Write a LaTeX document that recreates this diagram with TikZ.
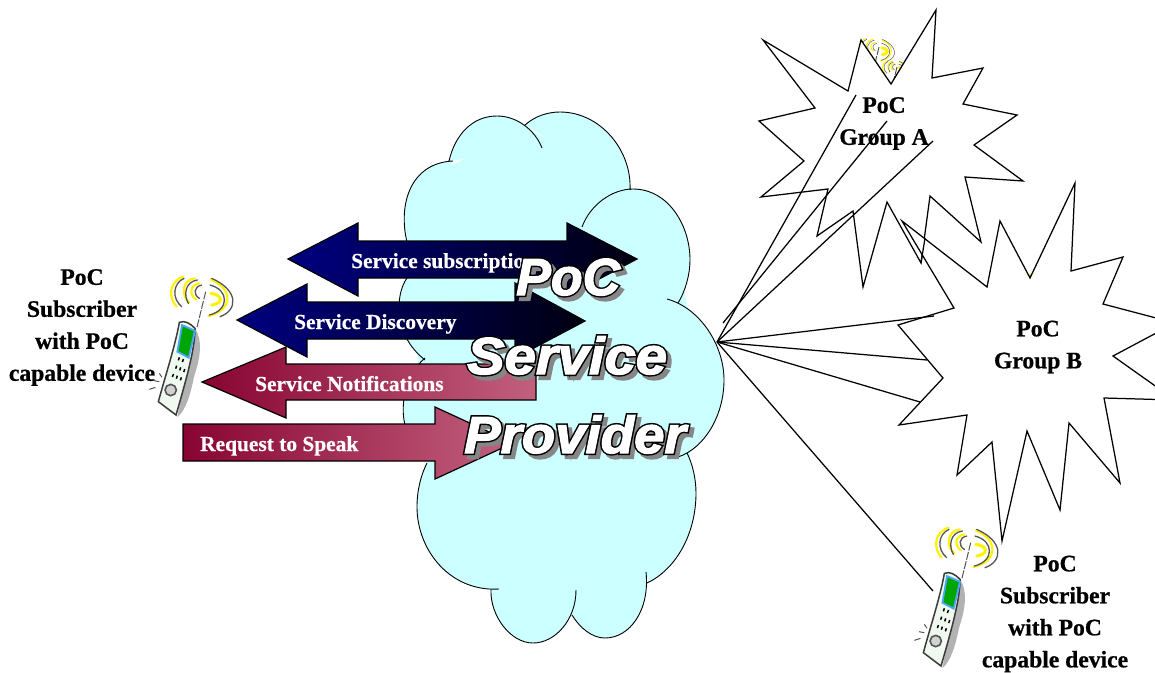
\documentclass[tikz,border=0pt]{standalone}
\usepackage{fontspec}
\setmainfont{Liberation Serif}
\font\wordartwide="Liberation Sans/BI:embolden=8" at 52pt
\font\wordartface="Liberation Sans/BI:embolden=2.4" at 52pt
\font\labelfont="Liberation Serif/B:embolden=0.7" at 23.6pt
\font\arrowfont="Liberation Serif/B:embolden=0.5" at 21.4pt
\definecolor{cloudcyan}{RGB}{204,255,255}
\definecolor{navyblue}{RGB}{0,0,128}
\definecolor{nearblack}{RGB}{0,0,16}
\definecolor{wine}{RGB}{136,4,50}
\definecolor{rose}{RGB}{194,96,126}
\definecolor{phonegrey}{RGB}{85,85,85}
\tikzset{
  outline/.style={draw=black,line width=1.25pt,line join=miter},
  label/.style={font=\fontsize{23.6}{32}\selectfont\labelfont,align=center,inner sep=0pt,text=black},
  arrowlabel/.style={font=\arrowfont,inner sep=0pt,text=white,anchor=base west},
  bluearrow/.style={left color=navyblue,right color=nearblack,shading angle=90},
  redarrow/.style={left color=wine,right color=rose,shading angle=90},
  arrowedge/.style={draw=black,line width=1.2pt},
  waveY/.style={draw=yellow,line width=2.2pt,line cap=round},
  waveG/.style={draw=phonegrey,line width=1.3pt,line cap=round},
  wordshadow/.style={font=\wordartwide,text=gray!95,inner sep=0pt,anchor=base west},
  wordedge/.style={font=\wordartwide,text=black,inner sep=0pt,anchor=base west},
  wordface/.style={font=\wordartface,text=white,inner sep=0pt,anchor=base west},
  hiddenwaves/.style={waveY/.append style={line width=1pt},waveG/.append style={line width=.5pt}}
}
\newcommand{\phonewaves}{%
  \draw[waveY] (130,50) .. controls (85,65) and (85,115) .. (110,140);
  \draw[waveG] (132,55) .. controls (98,70) and (95,115) .. (125,140);
  \draw[waveY] (165,55) .. controls (125,60) and (122,105) .. (148,128);
  \draw[waveG] (172,60) .. controls (135,65) and (130,105) .. (145,130);
  \draw[waveY] (178,70) .. controls (148,75) and (148,105) .. (168,118);
  \draw[waveG] (185,75) .. controls (160,80) and (160,105) .. (178,115);
  \draw[waveY] (212,58) .. controls (280,85) and (280,150) .. (205,168);
  \draw[waveG] (215,55) .. controls (295,90) and (295,150) .. (240,170);
  \draw[waveY,line width=3pt] (212,100) .. controls (250,105) and (250,130) .. (215,135);
  \draw[waveG] (210,75) .. controls (268,90) and (268,150) .. (208,165);
  \draw[phonegrey,line width=1pt,dash pattern=on 8pt off 1.5pt] (197,95) -- (170,205);
}
\newcommand{\phonebody}{%
  \fill[gray!60] (165,205) .. controls (188,240) and (182,290) .. (162,350) .. controls (152,400) and (138,450) .. (112,472) -- (125,400) -- cycle;
  \draw[phonegrey!70!black,line width=1.5pt,fill=green!4!white!95!gray] (118,187) .. controls (135,180) and (150,190) .. (165,205) .. controls (165,270) and (135,370) .. (108,465) -- (55,425) .. controls (75,350) and (105,260) .. (118,187) -- cycle;
  \draw[line width=1.8pt,draw=blue!50!cyan!70!white,fill=green!65!black] (126,195) -- (165,212) -- (146,293) -- (112,275) -- cycle;
  \foreach \kx/\ky in {118/292,130/297,110/317,122/322,134/327,100/342,112/347,124/352}
    \draw[black,line width=1.5pt] (\kx,\ky) -- ++(-3,9);
  \draw[phonegrey,line width=1.6pt,fill=gray!35] (92,390) circle [radius=17];
  \draw[phonegrey,line width=1pt] (58,340) -- (66,352) (42,362) -- (58,365) (28,388) -- (46,382);
}
\begin{document}
\begin{tikzpicture}[x=1pt,y=-1pt]
\useasboundingbox (0,0) rectangle (1155,672);
\fill[white] (0,0) rectangle (1155,672);

% phones hidden behind the stars
\begin{scope}[hiddenwaves,shift={(879,47)},x=.19pt,y=-.19pt,shift={(-197,-95)}]\phonewaves\end{scope}
\begin{scope}[hiddenwaves,shift={(897,67)},x=.14pt,y=-.14pt,shift={(-197,-95)}]\phonewaves\end{scope}
\begin{scope}[hiddenwaves,shift={(1042,280)},x=.15pt,y=-.15pt,shift={(-197,-95)}]\phonewaves\end{scope}

% stars
\draw[outline,fill=white] (763,40) -- (848,91) -- (861,40) -- (891,84) -- (936,10) -- (932,78) -- (983,68) -- (963,104) -- (1017,115) -- (974,145) -- (1023,181) -- (965,177) -- (981,242) -- (930,196) -- (921,263) -- (887,202) -- (863,287) -- (853,211) -- (817,236) -- (828,189) -- (761,197) -- (804,161) -- (759,121) -- (815,108) -- cycle;
\draw[outline,fill=white] (902,221) -- (987,287) -- (1000,221) -- (1030,278) -- (1075,183) -- (1071,271) -- (1123,257) -- (1103,304) -- (1175,323) -- (1113,356) -- (1175,400) -- (1104,398) -- (1120,483) -- (1069,423) -- (1060,510) -- (1027,431) -- (1002,541) -- (992,442) -- (957,475) -- (967,415) -- (899,425) -- (943,378) -- (898,325) -- (954,308) -- cycle;
\draw[outline] (925,238) -- (921,263);

% cloud
\def\cloudlobes{
  (407,242) .. controls (398,205) and (410,163) .. (453,161)
  (449,161) .. controls (455,135) and (472,116) .. (497,116) .. controls (517,116) and (535,130) .. (542,148)
  (525,125) .. controls (535,116) and (548,112) .. (560,112) .. controls (600,112) and (632,150) .. (630,190)
  (582,227) .. controls (590,205) and (612,189) .. (633,189) .. controls (668,189) and (690,225) .. (690,260) .. controls (690,275) and (685,292) .. (678,303)
  (667,299) .. controls (700,308) and (724,345) .. (724,380) .. controls (724,415) and (705,448) .. (678,457)
  (687,453) .. controls (693,465) and (696,480) .. (696,493) .. controls (696,535) and (675,570) .. (647,583)
  (646,572) .. controls (650,610) and (630,638) .. (605,638) .. controls (592,638) and (580,628) .. (572,615)
  (576,590) .. controls (576,620) and (555,643) .. (533,643) .. controls (510,643) and (490,615) .. (491,590)
  (499,589) .. controls (450,592) and (417,550) .. (417,507) .. controls (417,490) and (421,475) .. (427,463)
  (405,425) .. controls (400,405) and (405,375) .. (425,358)
  (407,278) .. controls (395,295) and (393,335) .. (425,360)
}
\fill[cloudcyan] \cloudlobes;
\fill[cloudcyan] (407,242) -- (440,170) -- (530,130) -- (625,180) -- (680,270) -- (690,320) -- (720,380) -- (690,450) -- (690,510) -- (647,578) -- (640,590) -- (572,615) -- (491,590) -- (420,510) -- (427,463) -- (405,425) -- (418,360) -- (407,278) -- cycle;
\draw[black,line width=.9pt] \cloudlobes;

% hub lines
\coordinate (hub) at (717,342);
\coordinate (hubb) at (723,323);
\coordinate (a1) at (856,95);
\coordinate (a2) at (887,121);
\coordinate (a3) at (933,141);
\coordinate (b1) at (934,316);
\coordinate (b2) at (927,360);
\coordinate (b3) at (920,402);
\coordinate (sub) at (933,591);
\draw[outline] (hub) -- (a1);
\draw[outline] (hubb) -- (a2);
\draw[outline] (hub) -- (a3);
\draw[outline] (hub) -- (b1);
\draw[outline] (hub) -- (b2);
\draw[outline] (hub) -- (b3);
\draw[outline] (hub) -- (sub);

% arrows
\path[arrowedge,redarrow] (202,382) -- (286,347) -- (286,364) -- (536,364) -- (536,400) -- (286,400) -- (286,418) -- cycle;
\path[arrowedge,bluearrow] (288,259) -- (358,223) -- (358,241) -- (567,241) -- (567,223) -- (637,259) -- (567,296) -- (567,278) -- (358,278) -- (358,296) -- cycle;
\path[arrowedge,bluearrow] (237,320) -- (307,284) -- (307,302) -- (515,302) -- (515,283) -- (585,321) -- (515,358) -- (515,339) -- (307,339) -- (307,357) -- cycle;
\path[arrowedge,redarrow] (183,424) -- (435,424) -- (435,407) -- (513,443) -- (435,479) -- (435,461) -- (183,461) -- cycle;

\node[arrowlabel] (tsub) at (351,268) {Service subscription};
\node[arrowlabel] (tdis) at (294,329) {Service Discovery};
\node[arrowlabel] (tnot) at (255,391) {Service Notifications};
\node[arrowlabel] (treq) at (200,451) {Request to Speak};

% word art: shadow, edge, face
\node[wordshadow] (poc3) at (520,299) {PoC};
\node[wordshadow,xscale=1.08,transform shape] (ser3) at (471,378) {Service};
\node[wordshadow,xscale=1.05,transform shape] (pro3) at (468,457) {Provider};
\node[wordedge] (poc2) at (516,295) {PoC};
\node[wordedge,xscale=1.08,transform shape] (ser2) at (467,374) {Service};
\node[wordedge,xscale=1.05,transform shape] (pro2) at (464,453) {Provider};
\node[wordface] (poc) at (516,295) {PoC};
\node[wordface,xscale=1.08,transform shape] (ser) at (467,374) {Service};
\node[wordface,xscale=1.05,transform shape] (pro) at (464,453) {Provider};

% visible phones
\begin{scope}[shift={(205.7,291.7)},x=.3333pt,y=-.3333pt,shift={(-197,-95)}]\phonebody\phonewaves\end{scope}
\begin{scope}[shift={(970.7,542.7)},x=.3333pt,y=-.3333pt,shift={(-197,-95)}]\phonebody\phonewaves\end{scope}

% labels
\node[label] (lsub) at (82,327.5) {PoC\\Subscriber\\with PoC\\capable device};
\node[label] (rsub) at (1055,614) {PoC\\Subscriber\\with PoC\\capable device};
\node[label] (ga) at (884,123.5) {PoC\\Group A};
\node[label] (gb) at (1038,347) {PoC\\Group B};
\end{tikzpicture}
\end{document}
